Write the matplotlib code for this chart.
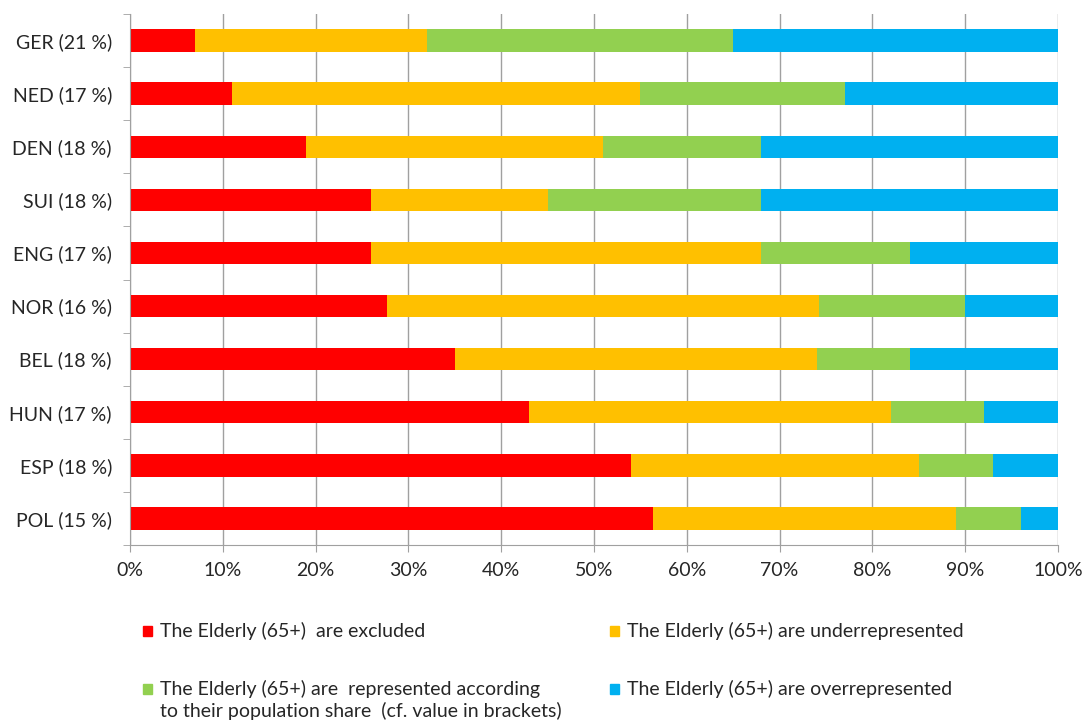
import matplotlib
matplotlib.use("Agg")
from matplotlib import pyplot as plt
from matplotlib.patches import Rectangle
from matplotlib.ticker import FixedLocator, PercentFormatter

plt.rcParams['font.family'] = ['Lato', 'DejaVu Sans']

# Countries (top to bottom) with elderly population share
countries = ["GER (21 %)", "NED (17 %)", "DEN (18 %)", "SUI (18 %)", "ENG (17 %)",
             "NOR (16 %)", "BEL (18 %)", "HUN (17 %)", "ESP (18 %)", "POL (15 %)"]

# Share of each category in percent
excluded = [7, 11, 19, 26, 26, 27.7, 35, 43, 54, 56.4]
underrepresented = [25, 44, 32, 19, 42, 46.5, 39, 39, 31, 32.6]
represented = [33, 22, 17, 23, 16, 15.8, 10, 10, 8, 7]
overrepresented = [35, 23, 32, 32, 16, 10, 16, 8, 7, 4]

labels = ["The Elderly (65+)  are excluded",
          "The Elderly (65+) are underrepresented",
          "The Elderly (65+) are  represented according",
          "The Elderly (65+) are overrepresented"]
colors = ["#FF0000", "#FFC000", "#92D050", "#00B0F0"]

fig = plt.figure(figsize=(10.86, 7.22), dpi=100)
ax = fig.add_axes([130 / 1086, 1 - 545 / 722, 928 / 1086, 531 / 722])

y = list(range(len(countries)))
left = [0] * len(countries)
for values, color in zip([excluded, underrepresented, represented, overrepresented], colors):
    ax.barh(y, values, left=left, height=0.42, color=color, zorder=2)
    left = [l + v for l, v in zip(left, values)]

ax.set_xlim(0, 100)
ax.set_ylim(len(countries) - 0.5, -0.5)

ax.set_xticks(range(0, 101, 10))
ax.xaxis.set_major_formatter(PercentFormatter(decimals=0))
ax.grid(axis='x', color='#A0A0A0', linewidth=1, zorder=0)

ax.set_yticks(y)
ax.set_yticklabels(countries)
ax.yaxis.set_minor_locator(FixedLocator([i + 0.5 for i in range(-1, len(countries))]))
ax.tick_params(axis='y', which='major', length=0, pad=13, labelsize=14, labelcolor='#262626')
ax.tick_params(axis='y', which='minor', length=5, color='#A0A0A0')
ax.tick_params(axis='x', which='major', length=5, color='#A0A0A0', labelsize=14,
               labelcolor='#262626', pad=7)

for side in ['top', 'right']:
    ax.spines[side].set_visible(False)
for side in ['left', 'bottom']:
    ax.spines[side].set_color('#A0A0A0')

# Legend drawn by hand, two columns
W, H = 1086, 722
legend_pos = [(143, 631), (610, 631), (143, 689), (610, 689)]
for (px, py), label, color in zip(legend_pos, labels, colors):
    fig.patches.append(Rectangle((px / W, 1 - (py + 5) / H), 9 / W, 10 / H,
                                 color=color, transform=fig.transFigure))
    fig.text((px + 17) / W, 1 - py / H, label, fontsize=14, color='#262626', va='center')
fig.text(160 / W, 1 - 711 / H, "to their population share  (cf. value in brackets)",
         fontsize=14, color='#262626', va='center')

plt.savefig('out.png', dpi=100)
